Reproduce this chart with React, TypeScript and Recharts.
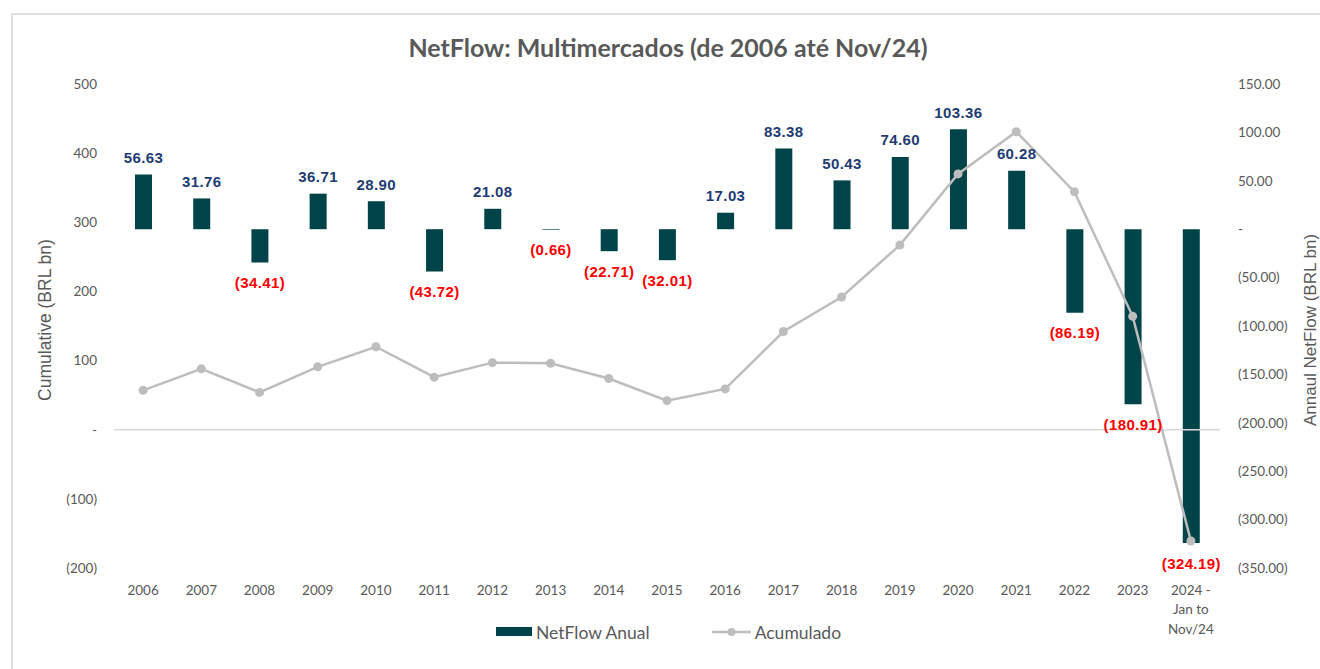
import {
  Bar,
  ComposedChart,
  LabelList,
  Legend,
  Line,
  ReferenceLine,
  XAxis,
  YAxis,
} from 'recharts';

const years = [
  '2006', '2007', '2008', '2009', '2010', '2011', '2012', '2013', '2014', '2015',
  '2016', '2017', '2018', '2019', '2020', '2021', '2022', '2023', '2024 -\nJan to\nNov/24',
];

// annual netflow (BRL bn), right axis
const netflowAnual = [
  56.63, 31.76, -34.41, 36.71, 28.9, -43.72, 21.08, -0.66, -22.71, -32.01,
  17.03, 83.38, 50.43, 74.6, 103.36, 60.28, -86.19, -180.91, -324.19,
];

// cumulative (BRL bn), left axis
const acumulado = [
  57, 88, 54, 91, 120, 76, 97, 96, 74, 42,
  59, 142, 192, 267, 370, 431, 344, 164, -161,
];

const leftTicks = [500, 400, 300, 200, 100, 0, -100, -200];
const rightTicks = [150, 100, 50, 0, -50, -100, -150, -200, -250, -300, -350];

const data = years.map((year, i) => ({
  year,
  netflow: netflowAnual[i],
  cumulative: acumulado[i],
}));

const GRAY_TEXT = '#595959';
const BAR_COLOR = '#00444A';
const LINE_COLOR = '#BDBDBD';
const TICK_FONT = 'Lato, "Open Sans", sans-serif';
const ARIAL = '"Liberation Sans", Arial, sans-serif';

function formatLeft(v: number) {
  if (v === 0) return '-';
  return v < 0 ? `(${Math.abs(v)})` : `${v}`;
}

function formatRight(v: number) {
  if (v === 0) return '-';
  return v < 0 ? `(${Math.abs(v).toFixed(2)})` : v.toFixed(2);
}

const YearTick = (props: any) => {
  const { x, y, payload } = props;
  const lines = String(payload.value).split('\n');
  return (
    <text x={x} y={y} textAnchor="middle" fill={GRAY_TEXT} fontSize={13.5} fontFamily={TICK_FONT}>
      {lines.map((line, i) => (
        <tspan key={i} x={x} dy={i === 0 ? '0.71em' : 19.5}>
          {line}
        </tspan>
      ))}
    </text>
  );
};

const BarValueLabel = (props: any) => {
  const { x, y, width, height, value } = props;
  const top = Math.min(y, y + height);
  const bottom = Math.max(y, y + height);
  const neg = value < 0;
  return (
    <text
      x={x + width / 2}
      y={neg ? bottom + 20 : top - 17}
      textAnchor="middle"
      dominantBaseline="central"
      fontFamily={ARIAL}
      fontWeight="bold"
      fontSize={15}
      letterSpacing={0.4}
      fill={neg ? '#FF0000' : '#1F3B73'}
    >
      {neg ? `(${Math.abs(value).toFixed(2)})` : value.toFixed(2)}
    </text>
  );
};

const renderLegend = (props: any) => {
  const payload = [...(props.payload || [])].sort(
    (a: any, b: any) => (a.type === 'line' ? 1 : 0) - (b.type === 'line' ? 1 : 0),
  );
  return (
    <div
      style={{
        display: 'flex',
        alignItems: 'center',
        height: 40,
        fontFamily: TICK_FONT,
        fontSize: 17.5,
        color: GRAY_TEXT,
        whiteSpace: 'nowrap',
      }}
    >
      {payload.map((entry: any, i: number) => (
        <div key={i} style={{ display: 'flex', alignItems: 'center', marginRight: 62 }}>
          {entry.type === 'line' ? (
            <svg width={39} height={12}>
              <line x1={0} y1={6} x2={39} y2={6} stroke={entry.color} strokeWidth={2.5} />
              <circle cx={19.5} cy={6} r={4} fill={entry.color} />
            </svg>
          ) : (
            <svg width={36} height={12}>
              <rect x={0} y={1} width={36} height={9} fill={entry.color} />
            </svg>
          )}
          <span style={{ marginLeft: 4 }}>{entry.value}</span>
        </div>
      ))}
    </div>
  );
};

export default function App() {
  return (
    <div style={{ position: 'absolute', left: 0, top: 0, width: 1320, height: 669, overflow: 'hidden', background: '#fff' }}>
      <div
        style={{
          position: 'absolute',
          left: 11,
          top: 13,
          width: 1330,
          height: 700,
          borderTop: '2px solid #E0E0E0',
          borderLeft: '2px solid #E0E0E0',
        }}
      />
      <div
        style={{
          position: 'absolute',
          top: 32,
          left: 0,
          width: 1336,
          textAlign: 'center',
          fontFamily: TICK_FONT,
          fontWeight: 'bold',
          fontSize: 25,
          lineHeight: '30px',
          color: GRAY_TEXT,
        }}
      >
        NetFlow: Multimercados (de 2006 até Nov/24)
      </div>
      <ComposedChart
        width={1320}
        height={669}
        data={data}
        margin={{ top: 84, right: 0, bottom: 0, left: 0 }}
        barSize={17}
      >
        <XAxis
          dataKey="year"
          axisLine={false}
          tickLine={false}
          interval={0}
          height={61}
          tickMargin={11}
          tick={<YearTick />}
        />
        <YAxis
          yAxisId="left"
          domain={[-200, 500]}
          ticks={leftTicks}
          tickFormatter={formatLeft}
          axisLine={false}
          tickLine={false}
          tickMargin={11}
          width={114}
          tick={{ fill: GRAY_TEXT, fontSize: 13.5, fontFamily: TICK_FONT }}
          label={{
            content: ({ viewBox }: any) => {
              const cx = viewBox.x + 45;
              const cy = viewBox.y + viewBox.height / 2 - 6;
              return (
                <text
                  x={cx}
                  y={cy}
                  transform={`rotate(-90, ${cx}, ${cy})`}
                  textAnchor="middle"
                  dominantBaseline="central"
                  fill={GRAY_TEXT}
                  fontSize={17.5}
                  fontFamily={ARIAL}
                >
                  Cumulative (BRL bn)
                </text>
              );
            },
          }}
        />
        <YAxis
          yAxisId="right"
          orientation="right"
          domain={[-350, 150]}
          ticks={rightTicks}
          tickFormatter={formatRight}
          axisLine={false}
          tickLine={false}
          tickMargin={12}
          width={100}
          tick={{ fill: GRAY_TEXT, fontSize: 13.5, fontFamily: TICK_FONT }}
          label={{
            content: ({ viewBox }: any) => {
              const cx = viewBox.x + 90;
              const cy = viewBox.y + viewBox.height / 2 + 4;
              return (
                <text
                  x={cx}
                  y={cy}
                  transform={`rotate(-90, ${cx}, ${cy})`}
                  textAnchor="middle"
                  dominantBaseline="central"
                  fill={GRAY_TEXT}
                  fontSize={17}
                  fontFamily={ARIAL}
                >
                  Annaul NetFlow (BRL bn)
                </text>
              );
            },
          }}
        />
        <ReferenceLine yAxisId="left" y={0} stroke="#D9D9D9" strokeWidth={1.5} />
        <Legend
          verticalAlign="bottom"
          height={40}
          content={renderLegend}
          wrapperStyle={{ top: 612, left: 496, width: 500 }}
        />
        <Bar
          yAxisId="right"
          dataKey="netflow"
          name="NetFlow Anual"
          fill={BAR_COLOR}
          isAnimationActive={false}
        >
          <LabelList dataKey="netflow" content={<BarValueLabel />} />
        </Bar>
        <Line
          yAxisId="left"
          type="linear"
          dataKey="cumulative"
          name="Acumulado"
          stroke={LINE_COLOR}
          strokeWidth={2.5}
          dot={{ r: 4.5, fill: LINE_COLOR, stroke: LINE_COLOR, strokeWidth: 0 }}
          activeDot={false}
          isAnimationActive={false}
        />
      </ComposedChart>
    </div>
  );
}
